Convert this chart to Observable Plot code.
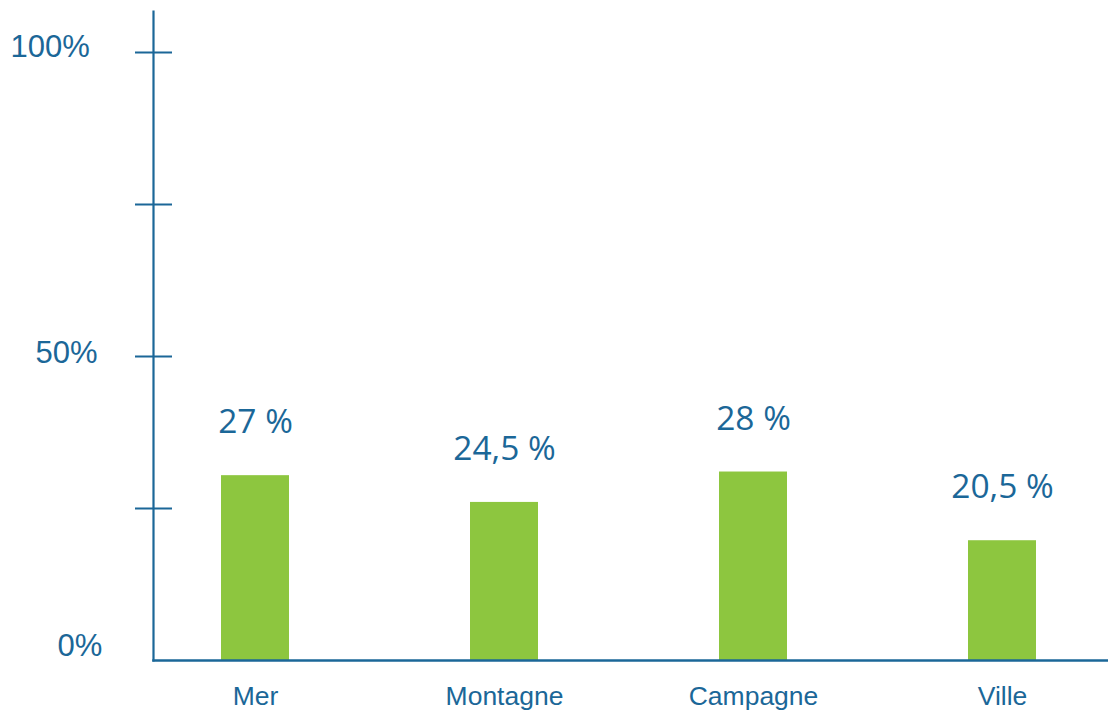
<!DOCTYPE html>
<html><head><meta charset="utf-8">
<script src="https://cdn.jsdelivr.net/npm/d3@7"></script>
<script src="https://cdn.jsdelivr.net/npm/@observablehq/plot@0.6"></script>
<style>html,body{margin:0;padding:0;background:#fff;}</style>
</head><body><div id="chart"></div>
<script>
// Data
const categories = ["Mer", "Montagne", "Campagne", "Ville"];
const barValues = [30.4, 26.0, 31.0, 19.7];          // bar heights as drawn (in %)
const valueLabels = ["27 %", "24,5 %", "28 %", "20,5 %"];
const yTickValues = [25, 50, 75, 100];
const yLabelValues = [100, 50, 0];
const yLabelTexts = ["100%", "50%", "0%"];

const blue = "#1b6798";
const green = "#8dc63f";

const table = categories.map((c, i) => ({category: c, value: barValues[i], label: valueLabels[i]}));
const yLabels = yLabelValues.map((v, i) => ({value: v, text: yLabelTexts[i]}));
const yLabelOffsets = [[-143, -5], [-118, -3], [-96, -14]];

const chart = Plot.plot({
  width: 1108,
  height: 710,
  marginLeft: 153,
  marginRight: 0,
  marginTop: 11,
  marginBottom: 50,
  style: {background: "#fff", color: blue, fontFamily: "'Liberation Sans', Arial, sans-serif"},
  x: {domain: categories, range: [220.5, 1035.5], paddingInner: 0.727, paddingOuter: 0, axis: null},
  y: {domain: [0, 100], range: [660, 52], axis: null},
  marks: [
    Plot.barY(table, {x: "category", y: "value", fill: green}),
    Plot.frame({anchor: "left", stroke: blue, strokeWidth: 2.2}),
    Plot.frame({anchor: "bottom", stroke: blue, strokeWidth: 2.5}),
    Plot.axisY(yTickValues, {tickSize: 37, dx: 19, fill: "none", stroke: blue, strokeWidth: 2.2, label: null}),
    ...yLabels.map((d, i) => Plot.text([d], {
      y: "value", text: "text", frameAnchor: "left", textAnchor: "start",
      dx: yLabelOffsets[i][0], dy: yLabelOffsets[i][1],
      fontSize: 31, fill: blue, fontFamily: "'Liberation Sans', Arial, sans-serif"
    })),
    Plot.axisX({tickSize: 0, tickPadding: 26, fontSize: 26.5, fill: blue, label: null,
      fontFamily: "'Liberation Sans', Arial, sans-serif"}),
    Plot.text(table, {x: "category", y: "value", text: "label", dy: -53,
      fontSize: 33.5, fill: blue, fontFamily: "'Open Sans', sans-serif"})
  ]
});
document.getElementById("chart").appendChild(chart);
</script>
</body></html>
